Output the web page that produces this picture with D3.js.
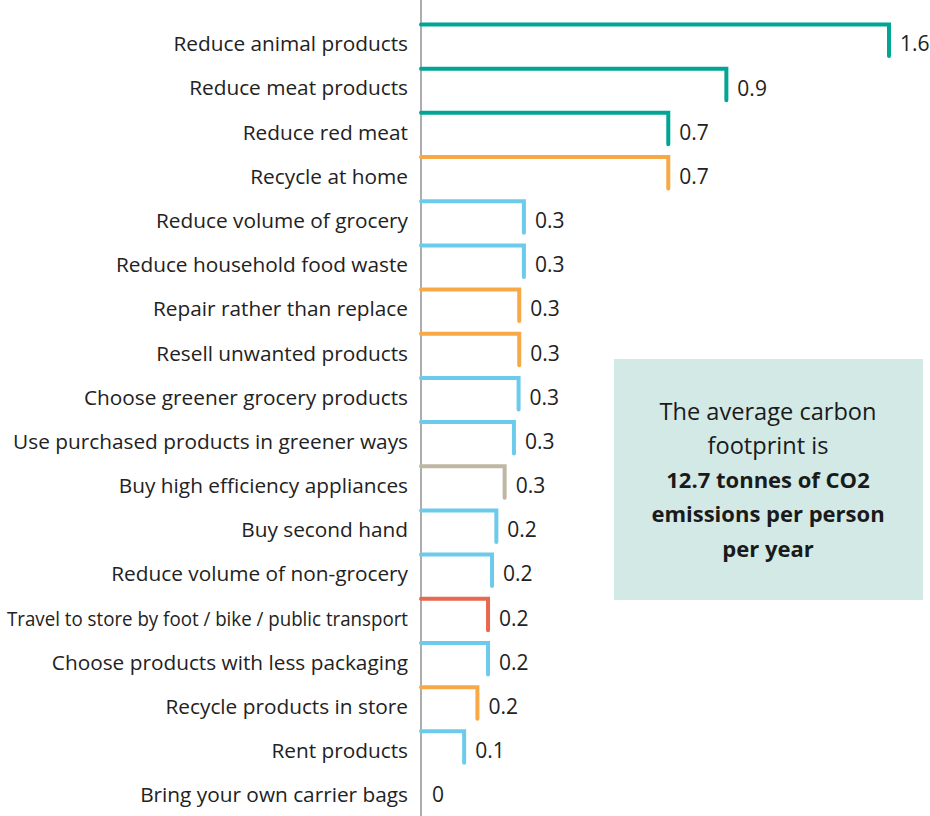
<!DOCTYPE html>
<html>
<head>
<meta charset="utf-8">
<script src="https://cdn.jsdelivr.net/npm/d3@7"></script>
<style>
  html, body { margin: 0; padding: 0; background: #fff; }
  svg { display: block; }
</style>
</head>
<body>
<svg id="chart" width="930" height="816"></svg>
<script>
// Carbon saving per action (tonnes CO2 per person per year)
const actions = [
  "Reduce animal products",
  "Reduce meat products",
  "Reduce red meat",
  "Recycle at home",
  "Reduce volume of grocery",
  "Reduce household food waste",
  "Repair rather than replace",
  "Resell unwanted products",
  "Choose greener grocery products",
  "Use purchased products in greener ways",
  "Buy high efficiency appliances",
  "Buy second hand",
  "Reduce volume of non-grocery",
  "Travel to store by foot / bike / public transport",
  "Choose products with less packaging",
  "Recycle products in store",
  "Rent products",
  "Bring your own carrier bags"
];
const savings = [1.6, 0.92, 0.745, 0.745, 0.31, 0.31, 0.296, 0.296, 0.294, 0.28, 0.252, 0.227, 0.214, 0.202, 0.202, 0.17, 0.13, 0];
const groups = [
  "diet", "diet", "diet", "circular",
  "grocery", "grocery", "circular", "circular",
  "grocery", "grocery", "energy", "grocery",
  "grocery", "transport", "grocery", "circular",
  "grocery", "grocery"
];
const groupNames = ["diet", "circular", "grocery", "energy", "transport"];
const groupColors = ["#00a693", "#f8a947", "#6ccbeb", "#bfb6a4", "#e8674f"];

const noteLines = [
  { text: "The average carbon", bold: false },
  { text: "footprint is", bold: false },
  { text: "12.7 tonnes of CO2", bold: true },
  { text: "emissions per person", bold: true },
  { text: "per year", bold: true }
];

// Axis cap: bars longer than this are drawn to the right edge
const xMax = 1.41;

const svg = d3.select("#chart");
const font = "'Open Sans', sans-serif";

const x = d3.scaleLinear().domain([0, xMax]).range([421, 889]).clamp(true);
const y = d3.scalePoint().domain(actions).range([44, 795]);
const color = d3.scaleOrdinal().domain(groupNames).range(groupColors);

const rows = actions.map((a, i) => ({ action: a, value: savings[i], group: groups[i] }));

// zero axis
svg.append("line")
  .attr("x1", x(0)).attr("x2", x(0))
  .attr("y1", 0).attr("y2", 816)
  .attr("stroke", "#8a8a8a")
  .attr("stroke-width", 1.4);

// bracket-shaped bars: top rule out to the value, then a drop
svg.append("g").selectAll("path")
  .data(rows.filter(d => d.value > 0))
  .join("path")
  .attr("d", d => {
    const c = y(d.action);
    return `M${x(0)},${c - 19.5}H${x(d.value)}V${c + 12}`;
  })
  .attr("fill", "none")
  .attr("stroke", d => color(d.group))
  .attr("stroke-width", 4)
  .attr("stroke-linecap", "round")
  .attr("stroke-linejoin", "miter");

// category labels, squeezed when wider than the label column
const labelRight = 408, labelMaxWidth = 401;
svg.append("g").selectAll("text")
  .data(rows)
  .join("text")
  .attr("x", labelRight)
  .attr("y", d => y(d.action))
  .attr("dy", "0.35em")
  .attr("text-anchor", "end")
  .attr("font-family", font)
  .attr("font-size", 20.8)
  .attr("fill", "#222")
  .text(d => d.action)
  .each(function() {
    if (this.getComputedTextLength() > labelMaxWidth) {
      d3.select(this)
        .attr("textLength", labelMaxWidth)
        .attr("lengthAdjust", "spacingAndGlyphs");
    }
  });

// value labels
const fmt = v => v === 0 ? "0" : d3.format(".1f")(v);
svg.append("g").selectAll("text")
  .data(rows)
  .join("text")
  .attr("x", d => x(d.value) + 11)
  .attr("y", d => y(d.action))
  .attr("dy", "0.35em")
  .attr("font-family", font)
  .attr("font-size", 21)
  .attr("fill", "#222")
  .text(d => fmt(d.value));

// note box
const note = svg.append("g");
note.append("rect")
  .attr("x", 614).attr("y", 359)
  .attr("width", 309).attr("height", 241)
  .attr("fill", "#d2e9e5");
note.selectAll("text")
  .data(noteLines)
  .join("text")
  .attr("x", 768)
  .attr("y", (d, i) => 412 + i * 34.2)
  .attr("dy", "0.35em")
  .attr("text-anchor", "middle")
  .attr("font-family", font)
  .attr("font-size", d => d.bold ? 22 : 23.6)
  .attr("font-weight", d => d.bold ? 700 : 400)
  .attr("fill", "#1a1a1a")
  .text(d => d.text);
</script>
</body>
</html>
